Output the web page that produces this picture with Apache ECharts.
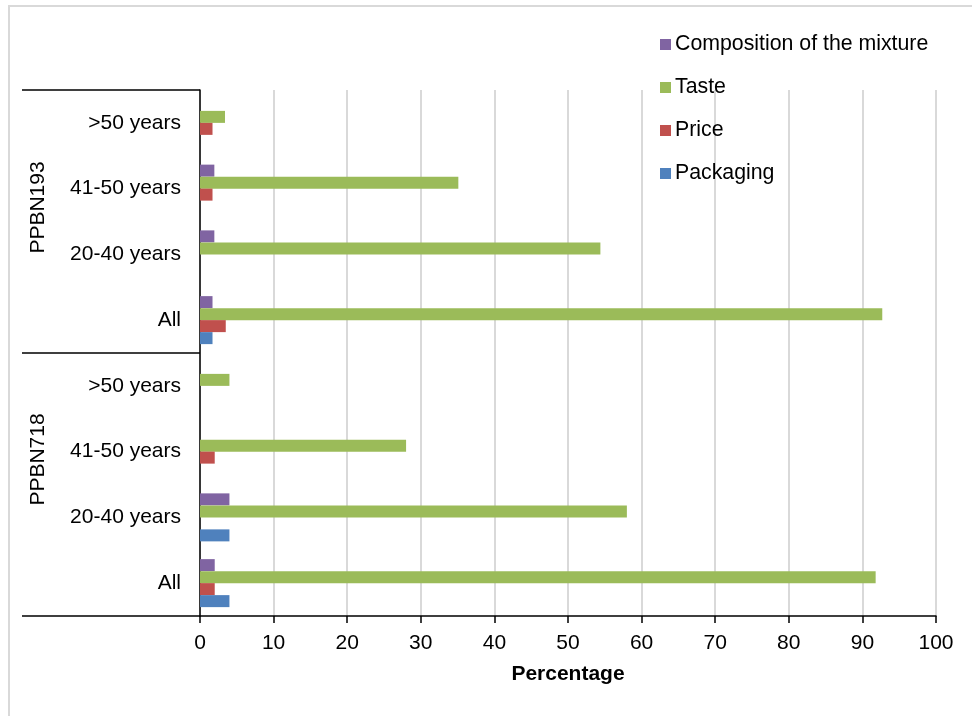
<!DOCTYPE html>
<html>
<head>
<meta charset="utf-8">
<script src="https://cdn.jsdelivr.net/npm/echarts@6/dist/echarts.min.js"></script>
<style>
  html, body { margin: 0; padding: 0; background: #fff; }
  #chart { width: 972px; height: 716px; }
</style>
</head>
<body>
<div id="chart"></div>
<script>
// Categories, listed bottom to top
const groups = ['PPBN718', 'PPBN193'];
const ageClasses = ['All', '20-40 years', '41-50 years', '>50 years'];

// Percentages per category (bottom to top: PPBN718 All .. >50, PPBN193 All .. >50)
const composition = [2.0, 4.0, 0, 0, 1.7, 1.95, 1.95, 0];
const taste       = [91.8, 58.0, 28.0, 4.0, 92.7, 54.4, 35.1, 3.4];
const price       = [2.0, 0, 2.0, 0, 3.5, 0, 1.7, 1.7];
const packaging   = [4.0, 4.0, 0, 0, 1.7, 0, 0, 0];

const xTicks = [0, 10, 20, 30, 40, 50, 60, 70, 80, 90, 100];

const categoryKeys = [];
groups.forEach(g => ageClasses.forEach(a => categoryKeys.push(g + '|' + a)));

const FONT = '"Liberation Sans", Arial, sans-serif';
const textBase = { color: '#000', fontFamily: FONT, fontSize: 21 };

const seriesDefs = [
  { name: 'Composition of the mixture', data: composition, color: '#8064a2' },
  { name: 'Taste', data: taste, color: '#9bbb59' },
  { name: 'Price', data: price, color: '#c0504d' },
  { name: 'Packaging', data: packaging, color: '#4f81bd' }
];

const chart = echarts.init(document.getElementById('chart'), null, { renderer: 'canvas' });

chart.setOption({
  animation: false,
  backgroundColor: '#fff',
  graphic: [{
    type: 'rect',
    shape: { x: 9, y: 6, width: 1000, height: 800 },
    style: { fill: 'none', stroke: '#d9d9d9', lineWidth: 2 },
    silent: true,
    z: -10
  }],
  legend: {
    orient: 'vertical',
    left: 660,
    top: 34,
    padding: 0,
    itemWidth: 11,
    itemHeight: 11,
    itemGap: 22,
    icon: 'rect',
    textStyle: Object.assign({}, textBase, { fontSize: 21.3, padding: [0, 0, 0, -1] }),
    data: seriesDefs.map(s => s.name)
  },
  grid: { left: 200, right: 36, top: 90, bottom: 100, containLabel: false },
  xAxis: {
    type: 'value',
    min: xTicks[0],
    max: xTicks[xTicks.length - 1],
    interval: xTicks[1] - xTicks[0],
    name: 'Percentage',
    nameLocation: 'middle',
    nameGap: 48,
    nameTextStyle: Object.assign({}, textBase, { fontWeight: 'bold', fontSize: 21 }),
    axisLine: { show: true, lineStyle: { color: '#000', width: 1.5 } },
    axisTick: { show: true, length: 7, lineStyle: { color: '#000', width: 1.5 } },
    axisLabel: Object.assign({}, textBase, { margin: 17 }),
    splitLine: { show: true, lineStyle: { color: '#d9d9d9', width: 2 } }
  },
  yAxis: [{
    type: 'category',
    data: categoryKeys,
    position: 'left',
    axisLine: { show: true, onZero: false, lineStyle: { color: '#000', width: 1.5 } },
    axisTick: { show: false },
    axisLabel: Object.assign({}, textBase, {
      margin: 19,
      padding: [3, 0, 0, 0],
      formatter: v => v.split('|')[1]
    }),
    splitLine: { show: false }
  }, {
    type: 'category',
    data: groups,
    position: 'left',
    axisLine: { show: false },
    axisTick: { show: true, length: 178, inside: false, lineStyle: { color: '#000', width: 1.5 } },
    axisLabel: Object.assign({}, textBase, {
      rotate: 90,
      margin: 151,
      formatter: v => (v === 'PPBN193' ? '{hi|' + v + '}' : '{lo|' + v + '}'),
      rich: {
        hi: Object.assign({}, textBase, { padding: [0, 0, 0, 28] }),
        lo: Object.assign({}, textBase, { padding: [0, 0, 0, 50] })
      }
    }),
    splitLine: { show: false }
  }],
  series: seriesDefs.map(s => ({
    name: s.name,
    type: 'bar',
    yAxisIndex: 0,
    data: s.data,
    barWidth: 12,
    barGap: '0%',
    itemStyle: { color: s.color },
    emphasis: { disabled: true }
  }))
});
</script>
</body>
</html>
